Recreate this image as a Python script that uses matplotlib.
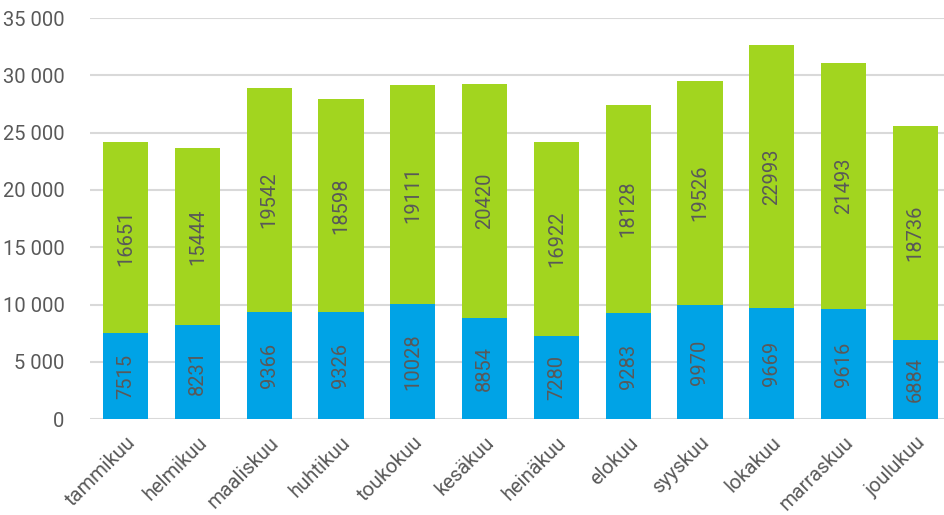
import matplotlib.pyplot as plt
from matplotlib.ticker import FuncFormatter

months = ["tammikuu", "helmikuu", "maaliskuu", "huhtikuu", "toukokuu", "kesäkuu",
          "heinäkuu", "elokuu", "syyskuu", "lokakuu", "marraskuu", "joulukuu"]
blue_vals = [7515, 8231, 9366, 9326, 10028, 8854, 7280, 9283, 9970, 9669, 9616, 6884]
green_vals = [16651, 15444, 19542, 18598, 19111, 20420, 16922, 18128, 19526, 22993, 21493, 18736]

plt.rcParams["font.family"] = ["Roboto", "DejaVu Sans"]
text_color = "#595959"

fig = plt.figure(figsize=(9.44, 5.15), dpi=100)
ax = fig.add_axes([0.095, 0.186, 0.905, 0.779])

x = range(len(months))
ax.bar(x, blue_vals, width=0.63, color="#00A3E6", zorder=2)
ax.bar(x, green_vals, width=0.63, bottom=blue_vals, color="#A2D51F", zorder=2)

for i in x:
    ax.text(i, blue_vals[i] / 2, str(blue_vals[i]), rotation=90, ha="center", va="center",
            fontsize=14.5, color=text_color, zorder=3)
    ax.text(i, blue_vals[i] + green_vals[i] / 2, str(green_vals[i]), rotation=90,
            ha="center", va="center", fontsize=14.5, color=text_color, zorder=3)

ax.set_xlim(-0.5, len(months) - 0.6)
ax.set_ylim(0, 35000)
ax.set_yticks(range(0, 35001, 5000))
ax.yaxis.set_major_formatter(FuncFormatter(lambda v, p: f"{int(v):,}".replace(",", " ")))
ax.grid(axis="y", color="#d9d9d9", linewidth=1.5, zorder=0)
ax.set_xticks(list(x))
ax.set_xticklabels(months, rotation=45, ha="right", rotation_mode="anchor")
ax.tick_params(axis="both", length=0, labelsize=14.5, colors=text_color)
ax.tick_params(axis="x", pad=10)
ax.tick_params(axis="y", pad=18)
for s in ax.spines.values():
    s.set_visible(False)

fig.savefig("out.png", dpi=100)
